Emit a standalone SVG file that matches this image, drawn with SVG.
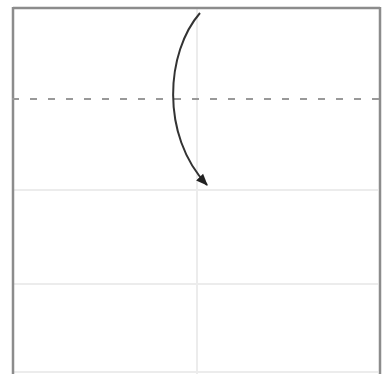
<svg xmlns="http://www.w3.org/2000/svg" width="386" height="374" viewBox="0 0 386 374">
<style>
.crease{stroke:#ececec;stroke-width:2;fill:none}
.edge{stroke:#8c8c8c;stroke-width:2.5;fill:none}
.valley{stroke:#999;stroke-width:2;stroke-dasharray:7 11;fill:none}
.arrow{stroke:#333;stroke-width:2;fill:none}
</style>
<defs>
<marker id="ah" viewBox="0 0 10 10" refX="9" refY="5" markerWidth="6" markerHeight="6" orient="auto" markerUnits="strokeWidth">
<path d="M0,1 L10,5 L0,9 Z" fill="#222"/>
</marker>
</defs>
<rect width="386" height="374" fill="#fff"/>
<g id="paper">
<line class="crease" x1="197" y1="9" x2="197" y2="374"/>
<line class="crease" x1="14" y1="190" x2="378" y2="190"/>
<line class="crease" x1="14" y1="284" x2="378" y2="284"/>
<line class="crease" x1="14" y1="372" x2="378" y2="372"/>
<line class="edge" x1="13" y1="8" x2="380" y2="8"/>
<line class="edge" x1="13" y1="7" x2="13" y2="374"/>
<line class="edge" x1="380" y1="7" x2="380" y2="374"/>
<line class="valley" x1="12" y1="99" x2="382" y2="99"/>
</g>
<g id="connectors">
<path class="arrow" d="M200,13 C166,52 160,135 207,185" marker-end="url(#ah)"/>
</g>
</svg>
